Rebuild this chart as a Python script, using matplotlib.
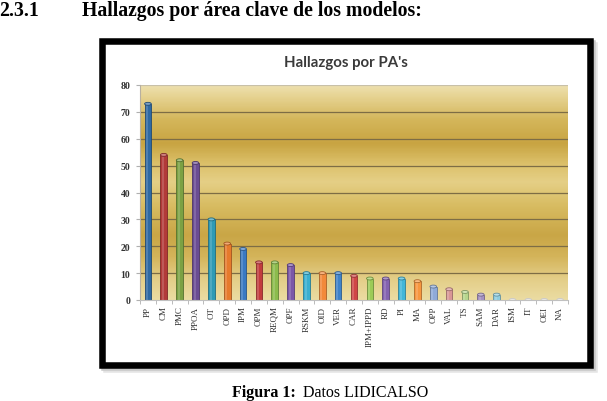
import numpy as np
import matplotlib
matplotlib.use("Agg")
import matplotlib.pyplot as plt
from matplotlib.colors import LinearSegmentedColormap, to_rgb
from matplotlib.patches import Rectangle, Ellipse

## datos del grafico
areas = ['PP', 'CM', 'PMC', 'PPOA', 'OT', 'OPD', 'IPM', 'OPM', 'REQM', 'OPF',
         'RSKM', 'OID', 'VER', 'CAR', 'IPM+IPPD', 'RD', 'PI', 'MA', 'OPP', 'VAL',
         'TS', 'SAM', 'DAR', 'ISM', 'IT', 'OEI', 'NA']
hallazgos = [73, 54, 52, 51, 30, 21, 19, 14, 14, 13,
             10, 10, 10, 9, 8, 8, 8, 7, 5, 4,
             3, 2, 2, 0, 0, 0, 0]
colores = ['#2f69a3', '#b23a39', '#7ba143', '#6a4c93', '#2f9ab5', '#e67a2c',
           '#3a79c2', '#c23b3d', '#8cbb4c', '#7b57a8', '#39afd0', '#f2893a',
           '#3f82c9', '#d04646', '#9ccb57', '#8462b0', '#42b6d8', '#f7963f',
           '#8faad8', '#d99696', '#b6d68c', '#a591c2', '#8ecde0', '#f5c198',
           '#c9d3e6', '#e3c7c7', '#d8e6c6']
titulo = "Hallazgos por PA's"
encabezado_num = "2.3.1"
encabezado = "Hallazgos por área clave de los modelos:"

W, H = 607, 402
fig = plt.figure(figsize=(W / 100, H / 100), dpi=100)
fig.patch.set_facecolor('white')

def fx(px):
    return px / W

def fy(py):
    return 1 - py / H

## marco negro con sombra
for off, col in [(4, '#e4e4e4'), (2.5, '#c8c8c8')]:
    fig.add_artist(Rectangle((fx(101.5 + off), fy(365.5 + off)), fx(488), 324 / H,
                             transform=fig.transFigure, fill=False,
                             edgecolor=col, linewidth=4.7, zorder=1))
fig.add_artist(Rectangle((fx(101.5), fy(365.5)), fx(488), 324 / H,
                         transform=fig.transFigure, facecolor='white',
                         edgecolor='black', linewidth=4.7, zorder=2))

## ejes
ax = fig.add_axes([fx(140), fy(301), fx(568 - 140), (301 - 86) / H])
ax.set_zorder(3)
ax.patch.set_alpha(0)

x = np.arange(len(areas))
ax.set_xlim(-0.5, len(areas) - 0.5)
ax.set_ylim(0, 80)

# fondo degradado dorado
stops = [(0.00, '#eee0ae'), (0.05, '#e6d392'), (0.16, '#d4b65a'), (0.27, '#c8a442'),
         (0.36, '#dbbf68'), (0.45, '#e5cf86'), (0.56, '#d8bc62'), (0.70, '#c9a646'),
         (0.80, '#d4b45a'), (0.90, '#e3cd86'), (1.00, '#ebdca2')]
cmap = LinearSegmentedColormap.from_list('oro', stops)
grad = np.linspace(0, 1, 300)[:, None]
ax.imshow(grad, cmap=cmap, aspect='auto', extent=(-0.5, len(areas) - 0.5, 0, 80),
          origin='upper', zorder=0)

for v in range(10, 80, 10):
    ax.axhline(v, color='#7d6d45', linewidth=0.9, zorder=1)
ax.axhline(80, color='#c8c0a8', linewidth=0.9, zorder=1)

# barras cilindricas
ancho = 0.42
for xi, val, c in zip(x, hallazgos, colores):
    rgb = np.array(to_rgb(c))
    oscuro = rgb * 0.7
    claro = np.clip(rgb + (1 - rgb) * 0.35, 0, 1)
    if val > 0:
        ax.bar(xi, val, width=ancho, color=c, edgecolor=oscuro, linewidth=0.6, zorder=2)
        ax.bar(xi - ancho * 0.12, val, width=ancho * 0.3, color=claro, alpha=0.45,
               linewidth=0, zorder=2)
    ax.add_patch(Ellipse((xi, val), ancho, 1.1, facecolor=claro if val > 0 else '#e8e6e0',
                         edgecolor=oscuro if val > 0 else '#c8c8c8', linewidth=0.6, zorder=3))

ax.set_xticks(x)
ax.set_xticklabels(areas, rotation=90, fontsize=6.5, family='Liberation Serif',
                   color='#333333')
ax.set_xticks(np.arange(-0.5, len(areas), 1), minor=True)
ax.tick_params(axis='x', which='major', length=0, pad=4)
ax.tick_params(axis='x', which='minor', length=3, color='#b0b0b0')
ax.set_yticks(range(0, 81, 10))
ax.set_yticklabels([str(v) for v in range(0, 81, 10)], fontsize=7,
                   family='Liberation Serif', fontweight='bold', color='#333333')
ax.tick_params(axis='y', length=3, color='#b0b0b0', pad=4)
for s in ['top', 'right']:
    ax.spines[s].set_visible(False)
ax.spines['left'].set_color('#b8b0a0')
ax.spines['bottom'].set_color('#c0c0c0')

fig.text(fx(346), fy(63), titulo, ha='center', va='center', fontsize=10.8,
         family='Lato', fontweight='bold', color='#3a3a3a', zorder=4)

## encabezado y pie
fig.text(fx(-1), fy(1), encabezado_num, ha='left', va='top', fontsize=14.2,
         family='Liberation Serif', fontweight='bold')
fig.text(fx(82), fy(1), encabezado, ha='left', va='top', fontsize=14.2,
         family='Liberation Serif', fontweight='bold')
fig.text(fx(232), fy(401.5), 'Figura 1:', ha='left', va='bottom', fontsize=11.5,
         family='Liberation Serif', fontweight='bold')
fig.text(fx(303), fy(401.5), 'Datos LIDICALSO', ha='left', va='bottom', fontsize=11.5,
         family='Liberation Serif')

plt.savefig("out.png", dpi=100)
